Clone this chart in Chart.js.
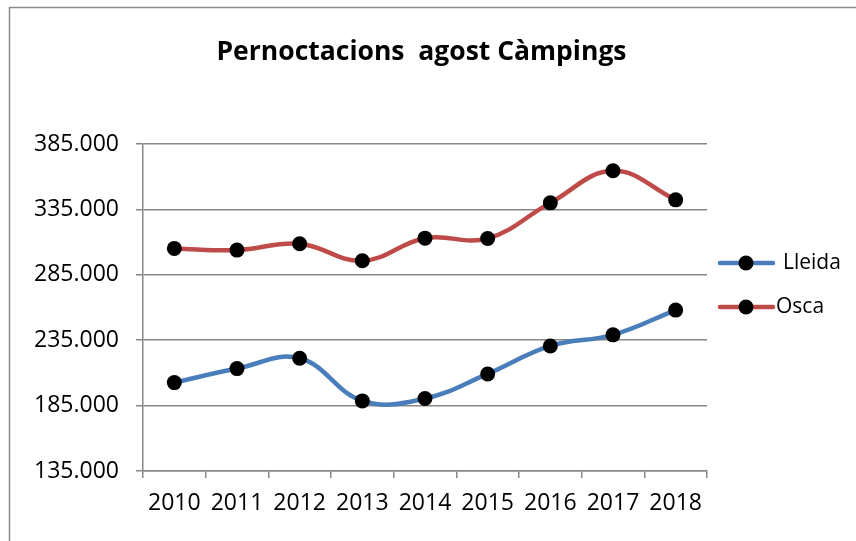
<!DOCTYPE html>
<html>
<head>
<meta charset="utf-8">
<script src="https://cdn.jsdelivr.net/npm/chart.js@4.4.0/dist/chart.umd.min.js"></script>
<style>
  html, body { margin: 0; padding: 0; background: #fff; }
  canvas { display: block; }
</style>
</head>
<body>
<canvas id="chart" width="856" height="541"></canvas>
<script>
const years = ["2010", "2011", "2012", "2013", "2014", "2015", "2016", "2017", "2018"];
const lleida = [202600, 213300, 221200, 188600, 190400, 209200, 230600, 239100, 258000];
const osca = [305200, 303900, 308700, 295700, 313000, 312800, 340000, 364500, 342300];
const yMin = 135000;
const yMax = 385000;
const yStep = 50000;
const chartTitle = "Pernoctacions  agost Càmpings";

const FONT = "'Open Sans', sans-serif";
const GRID = "#878787";

// frame, title and legend drawn by hand, the excel look
const excelBits = {
  id: "excelBits",
  afterDraw: function (chart) {
    var ctx = chart.ctx;
    ctx.save();
    ctx.strokeStyle = "#8a8a8a";
    ctx.lineWidth = 1.5;
    ctx.strokeRect(9.5, 7.5, 900, 600);

    ctx.fillStyle = "#000";
    ctx.font = "bold 26.5px " + FONT;
    ctx.textAlign = "center";
    ctx.textBaseline = "alphabetic";
    ctx.fillText(chartTitle, 421.5, 60);

    var rows = [263, 307];
    ctx.textAlign = "left";
    chart.data.datasets.forEach(function (ds, i) {
      var y = rows[i];
      ctx.strokeStyle = ds.borderColor;
      ctx.lineWidth = 4.5;
      ctx.lineCap = "round";
      ctx.beginPath();
      ctx.moveTo(720, y);
      ctx.lineTo(773, y);
      ctx.stroke();
      ctx.fillStyle = "#000";
      ctx.beginPath();
      ctx.arc(746, y, 7.5, 0, Math.PI * 2);
      ctx.fill();
      ctx.font = "21px " + FONT;
      ctx.textBaseline = "middle";
      ctx.fillText(ds.label, i === 0 ? 783 : 776, y);
    });
    ctx.restore();
  }
};

var ctx = document.getElementById("chart").getContext("2d");
var myChart = new Chart(ctx, {
  type: "line",
  data: {
    labels: years,
    datasets: [
      {
        label: "Lleida",
        data: lleida,
        borderColor: "#4a7ebb",
        borderWidth: 4.5,
        tension: 0.4,
        pointRadius: 7.5,
        pointBackgroundColor: "#000",
        pointBorderColor: "#000",
        pointBorderWidth: 0,
      },
      {
        label: "Osca",
        data: osca,
        borderColor: "#be4b48",
        borderWidth: 4.5,
        tension: 0.4,
        pointRadius: 7.5,
        pointBackgroundColor: "#000",
        pointBorderColor: "#000",
        pointBorderWidth: 0,
      },
    ],
  },
  options: {
    responsive: false,
    animation: false,
    layout: { padding: { left: 10, right: 149, top: 144, bottom: 0 } },
    plugins: {
      legend: { display: false },
      tooltip: { enabled: false },
      title: { display: false },
    },
    scales: {
      x: {
        offset: true,
        afterFit: function (scale) { scale.height = 70; },
        grid: { offset: true, drawOnChartArea: false, drawTicks: true, tickLength: 7, color: GRID, lineWidth: 1.5 },
        border: { display: true, color: GRID, width: 1.5 },
        ticks: { color: "#000", padding: 12, maxRotation: 0, autoSkip: false, font: { family: FONT, size: 23 } },
      },
      y: {
        min: yMin,
        max: yMax,
        afterFit: function (scale) { scale.width = 133; },
        grid: { color: GRID, lineWidth: 1.5, tickLength: 7 },
        border: { display: true, color: GRID, width: 1.5 },
        ticks: {
          stepSize: yStep,
          color: "#000",
          padding: 17,
          font: { family: FONT, size: 23 },
          callback: function (v) { return v.toLocaleString("de-DE"); },
        },
      },
    },
  },
  plugins: [excelBits],
});
</script>
</body>
</html>
